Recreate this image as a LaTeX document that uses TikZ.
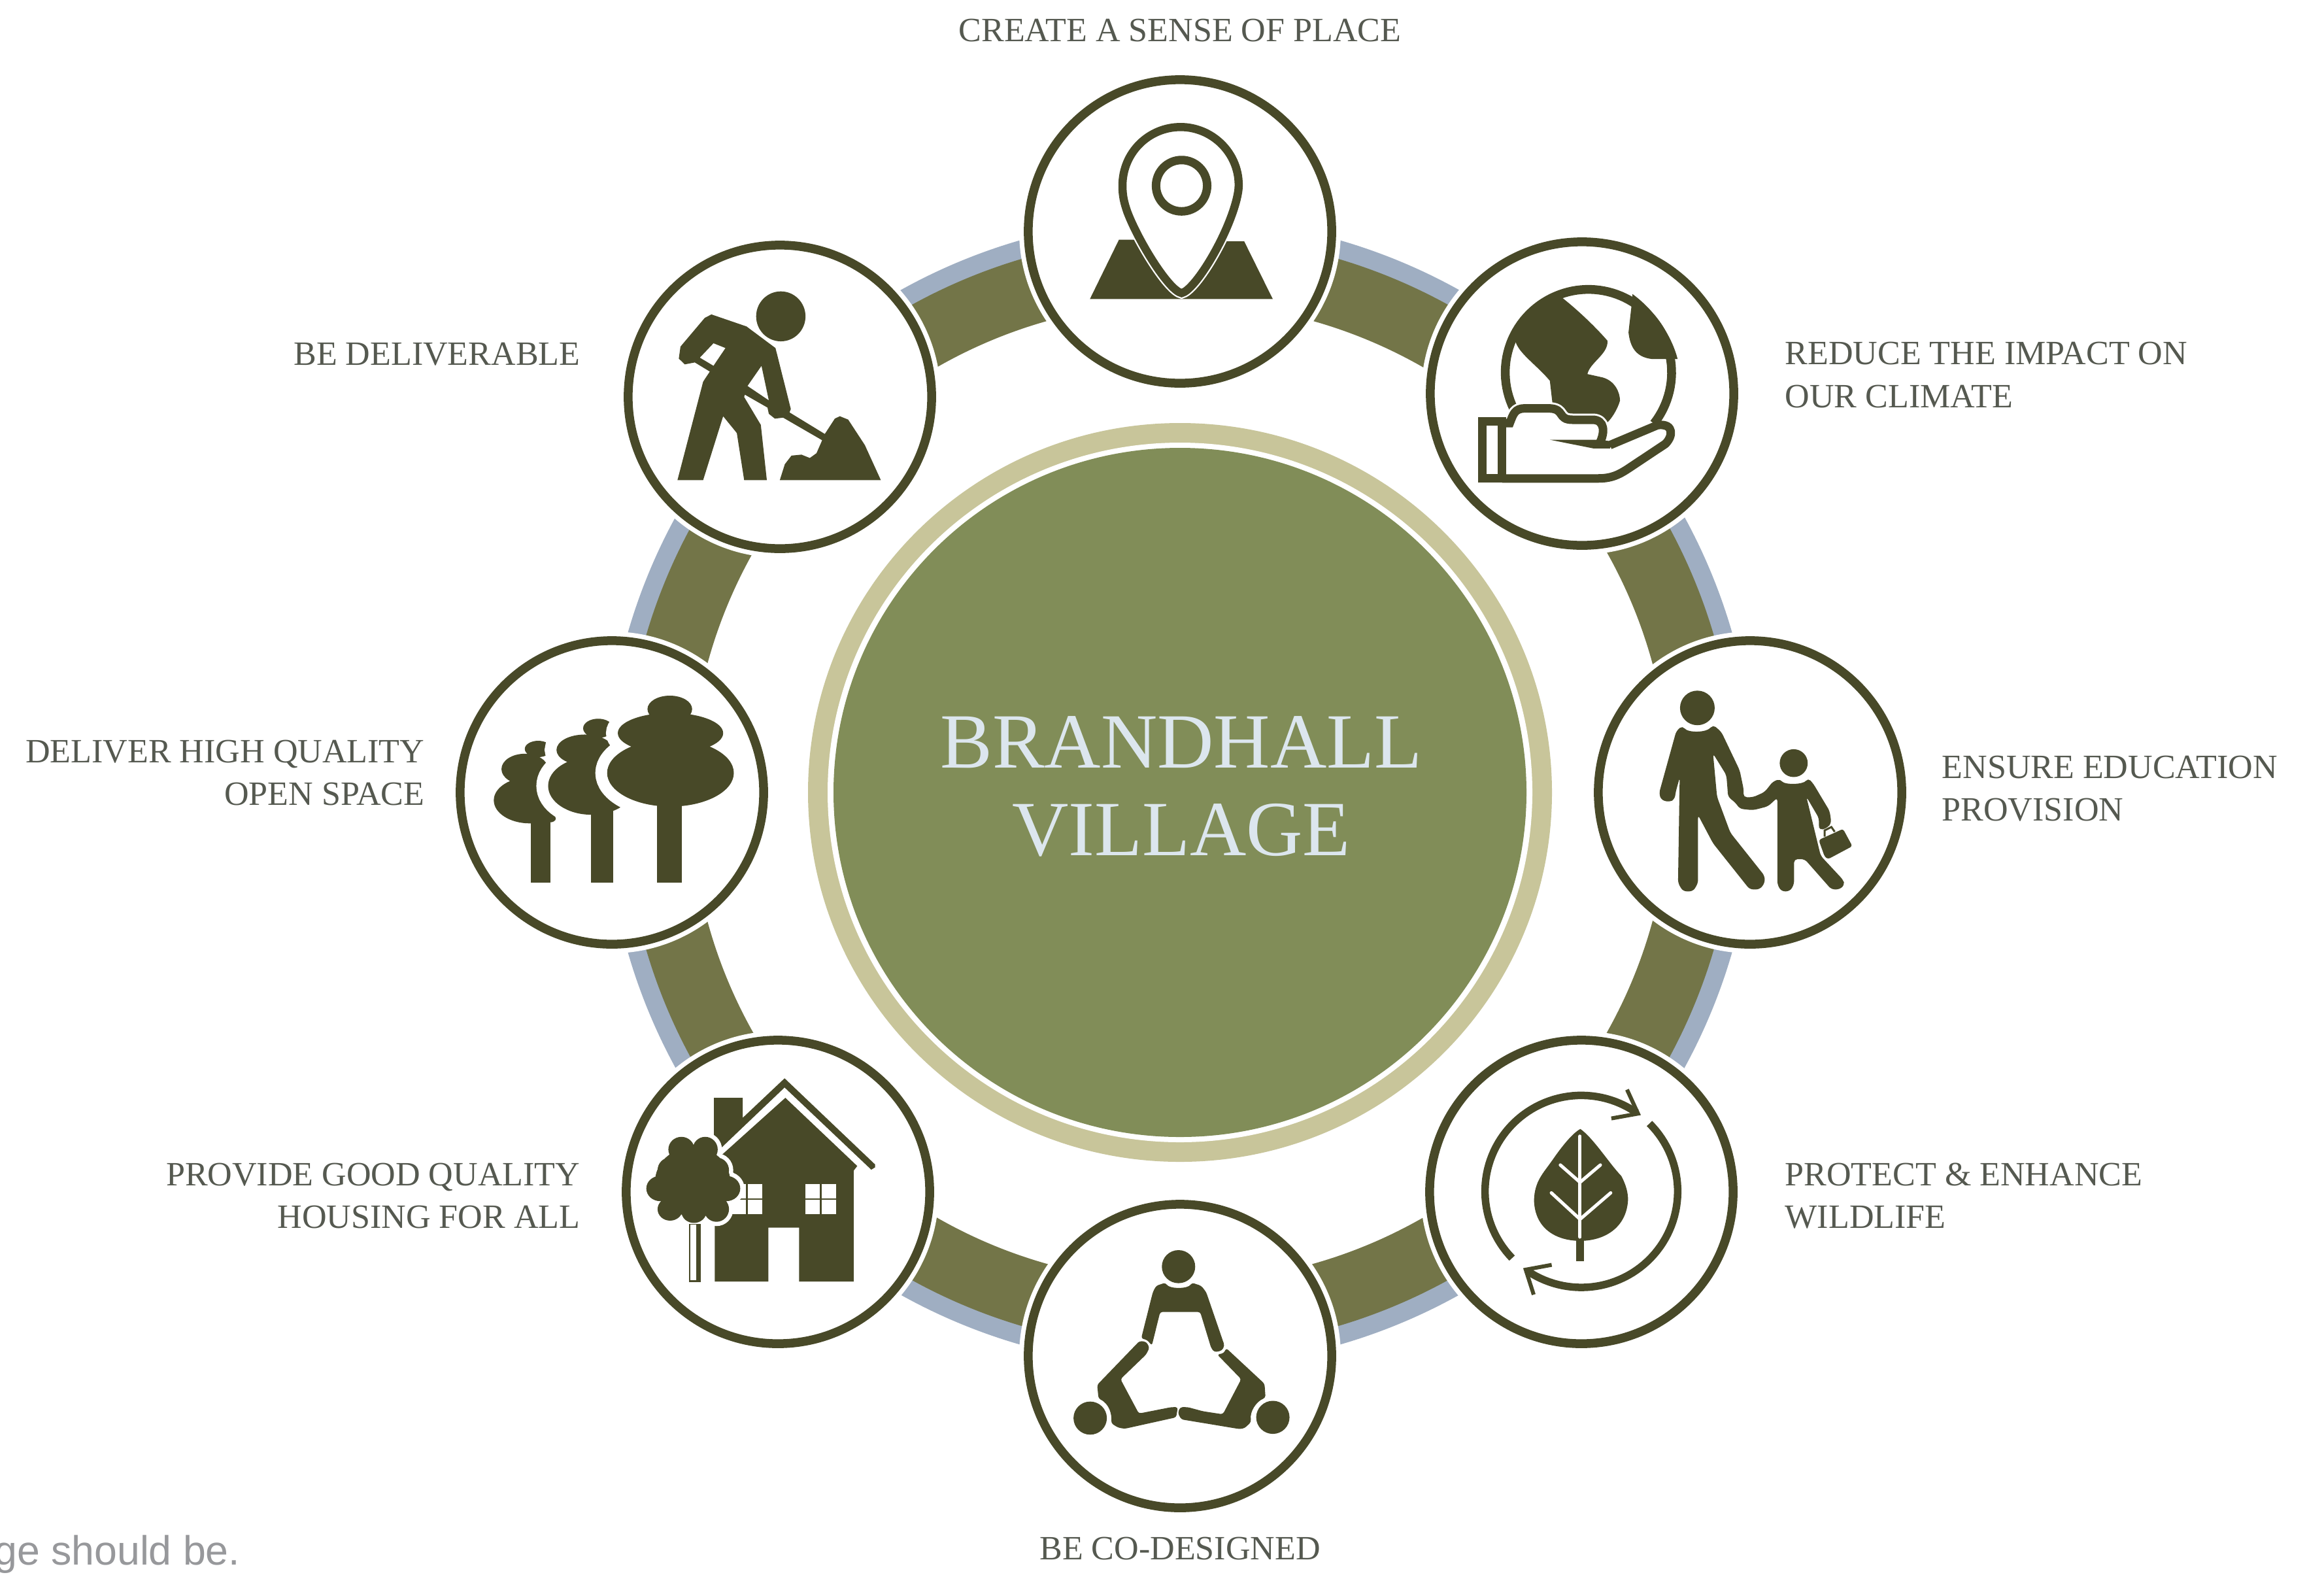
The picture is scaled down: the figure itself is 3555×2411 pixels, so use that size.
\documentclass[tikz,border=0pt]{standalone}
\usepackage{fontspec}
\setmainfont{Liberation Serif}
\newfontfamily\notefont{Liberation Sans}
\definecolor{icon}{HTML}{484928}
\definecolor{bandolive}{HTML}{737548}
\definecolor{bandblue}{HTML}{9FAEC2}
\definecolor{tanring}{HTML}{C8C59A}
\definecolor{coregreen}{HTML}{818D58}
\definecolor{coretext}{HTML}{DCE6EE}
\definecolor{labeltext}{HTML}{555950}
\definecolor{notetext}{HTML}{97989B}
\tikzset{
  hub/.style={circle,draw=icon,fill=white,line width=0.135cm,minimum size=4.64cm,inner sep=0pt,outer sep=0pt},
  lab/.style={text=labeltext,font=\fontsize{14.8pt}{18.49pt}\selectfont,inner sep=0pt},
  labl/.style={lab,align=left,anchor=base west},
  labr/.style={lab,align=right,anchor=base east},
  labc/.style={lab,align=center,anchor=base},
  core/.style={inner sep=0pt,outer sep=0pt,text=coretext,font=\fontsize{34pt}{38.3pt}\selectfont,align=center},
  zone/.style={shift={(15cm,-0.8cm)},x=0.007653cm,y=-0.005102cm},
  ztwo/.style={shift={(21.5cm,-9.5cm)},x=0.005102cm,y=-0.007334cm},
  zthree/.style={shift={(15cm,-18cm)},x=0.005102cm,y=-0.003897cm},
  zfour/.style={shift={(9cm,-15.5cm)},x=0.003827cm,y=-0.003508cm},
  zfive/.style={shift={(6.8cm,-3.5cm)},x=0.005102cm,y=-0.007334cm},
  ic/.style={fill=icon,draw=none},
  iw/.style={fill=white,draw=none},
}
\newcommand{\pinpath}{(398,224) .. controls (335,224) and (282,300) .. (282,400) .. controls (282,430) and (285,450) .. (292,480) .. controls (315,570) and (375,715) .. (400,722) .. controls (425,715) and (490,560) .. (510,440) .. controls (513,420) and (514,410) .. (514,398) .. controls (514,300) and (460,224) .. (398,224) -- cycle}
\newcommand{\crownbig}{(675,1000) ellipse [x radius=67,y radius=28] (677,1050) ellipse [x radius=158,y radius=42] (677,1133) ellipse [x radius=190,y radius=70]}
\newcommand{\crownmid}{(460,1040) ellipse [x radius=45,y radius=20] (420,1085) ellipse [x radius=85,y radius=32] (440,1160) ellipse [x radius=130,y radius=60]}
\newcommand{\crownsmall}{(280,1083) ellipse [x radius=40,y radius=17] (240,1125) ellipse [x radius=70,y radius=32] (255,1190) ellipse [x radius=108,y radius=48] (315,1228) ellipse [x radius=18,y radius=8]}
\newcommand{\treetop}{(370,590) ellipse [x radius=52,y radius=55] (465,590) ellipse [x radius=50,y radius=55] (325,680) ellipse [x radius=50,y radius=55] (510,680) ellipse [x radius=50,y radius=55] (285,760) ellipse [x radius=55,y radius=55] (550,760) ellipse [x radius=55,y radius=55] (325,850) ellipse [x radius=50,y radius=50] (510,850) ellipse [x radius=50,y radius=55] (420,860) ellipse [x radius=50,y radius=50] (415,730) ellipse [x radius=150,y radius=150]}
\begin{document}
\begin{tikzpicture}[x=0.01cm,y=-0.01cm]
\useasboundingbox (0,0) rectangle (3555,2411);
\fill[white] (0,0) rectangle (3555,2411);
% rings
\coordinate (mid) at (1805,1212);
\draw[bandblue,line width=0.29cm] (mid) circle (864.5);
\draw[bandolive,line width=1.02cm] (mid) circle (800);
\fill[tanring] (mid) ellipse [x radius=569,y radius=565];
\fill[white] (mid) ellipse [x radius=539,y radius=535];
\fill[coregreen] (mid) ellipse [x radius=530,y radius=527];
\node[core] (hubcore) at (1807,1203) {BRANDHALL\\VILLAGE};
% stations
\foreach \nm/\px/\py in {a/1805/354,b/2420/602,c/2677/1212,d/2419/1823,e/1805/2074,f/1190/1823,g/936/1212,h/1193/607}{
  \coordinate (p\nm) at (\px,\py);
  \fill[white] (p\nm) circle (246);
  \node[hub] (\nm) at (p\nm) {};
}
% labels
\node[labc] (la) at (1805,63) {CREATE A SENSE OF PLACE};
\node[labl] (lb) at (2730,623) {REDUCE THE IMPACT ON\\OUR CLIMATE};
\node[labl] (lc) at (2970,1255) {ENSURE EDUCATION\\PROVISION};
\node[labl] (ld) at (2730,1878) {PROTECT \& ENHANCE\\WILDLIFE};
\node[labc] (le) at (1805,2385) {BE CO-DESIGNED};
\node[labr] (lf) at (888,1878) {PROVIDE GOOD QUALITY\\HOUSING FOR ALL};
\node[labr] (lg) at (650,1231) {DELIVER HIGH QUALITY\\OPEN SPACE};
\node[labr] (lh) at (888,558) {BE DELIVERABLE};
\node[anchor=base east,inner sep=0pt,text=notetext,font=\notefont\fontsize{17.8pt}{22pt}\selectfont] (note) at (368,2393) {ge should be.};
% pin
\begin{scope}[zone]
\fill[ic] (217,740) -- (275,562) -- (400,562) -- (485,567) -- (525,567) -- (582,740) -- cycle;
\draw[white,line width=0.17cm,fill=white] \pinpath;
\draw[icon,line width=0.125cm] \pinpath;
\draw[icon,line width=0.13cm] (400,400) ellipse [x radius=51,y radius=77];
% globe
\fill[ic] (1150,725) .. controls (1190,770) and (1230,830) .. (1250,865) .. controls (1252,905) and (1215,930) .. (1210,965) -- (1240,975) .. controls (1265,985) and (1275,1020) .. (1275,1045) .. controls (1270,1070) and (1260,1095) .. (1250,1110) -- (1140,1110) -- (1140,1050) -- (1135,985) .. controls (1110,940) and (1075,905) .. (1067,870) -- (1060,860) .. controls (1070,810) and (1100,760) .. (1150,725) -- cycle;
\fill[ic] (1298,760) -- (1292,840) .. controls (1295,880) and (1305,915) .. (1340,920) -- (1390,920) .. controls (1380,860) and (1350,780) .. (1300,725) -- cycle;
\draw[icon,line width=0.135cm] plot[domain=154:398,samples=80] ({1212+166*cos(\x)},{960+249*sin(\x)});
% hand
\fill[iw] (1040,1112) -- (1055,1100) -- (1062,1075) -- (1085,1062) -- (1135,1062) -- (1175,1100) -- (1225,1100) -- (1245,1165) -- (1350,1110) -- (1385,1130) -- (1365,1175) -- (1295,1245) -- (1232,1278) -- (1040,1278) -- cycle;
\draw[white,line width=0.19cm,line join=round] (1040,1112) -- (1055,1112) .. controls (1062,1085) and (1065,1068) .. (1085,1068) -- (1135,1068) .. controls (1165,1070) and (1150,1102) .. (1180,1102) -- (1220,1102) .. controls (1245,1102) and (1245,1140) .. (1235,1170);
\draw[icon,line width=0.13cm,line join=miter] (1040,1112) -- (1055,1112) .. controls (1062,1085) and (1065,1068) .. (1085,1068) -- (1135,1068) .. controls (1165,1070) and (1150,1102) .. (1180,1102) -- (1220,1102) .. controls (1245,1102) and (1245,1140) .. (1235,1170);
\draw[icon,line width=0.13cm,line join=round] (1040,1278) -- (1232,1278) .. controls (1260,1278) and (1275,1265) .. (1295,1245) -- (1365,1175) .. controls (1380,1155) and (1385,1112) .. (1350,1118) -- (1255,1178);
\fill[ic] (1135,1162) -- (1225,1162) -- (1250,1165) -- (1260,1170) -- (1255,1188) -- (1222,1188) -- cycle;
\draw[icon,line width=0.13cm,fill=white] (1000,1107) rectangle (1040,1278);
\end{scope}
% worker and trees
\begin{scope}[zfive]
\fill[ic] (1008,182) ellipse [x radius=74,y radius=52];
\fill[ic,even odd rule] (800,178) -- (905,203) -- (992,248) -- (1038,375) -- (1034,382) -- (1140,427) -- (1170,395) -- (1185,390) -- (1210,397) -- (1260,450) -- (1308,523) -- (1005,523) -- (1020,490) -- (1040,472) -- (1070,470) -- (1095,477) -- (1115,467) -- (1132,440) -- (1015,393) -- (990,395) -- (972,385) -- (968,372) -- (900,345) -- (898,350) -- (948,408) -- (966,523) -- (898,523) -- (876,425) -- (835,390) -- (775,523) -- (698,523) -- (775,318) -- (795,297) -- (750,278) -- (720,282) -- (702,270) -- (707,245) -- (780,185) -- cycle
 (765,268) -- (806,238) -- (842,248) -- (806,285) -- cycle
 (908,327) -- (950,285) -- (972,357) -- cycle;
% trees
\fill[ic] (259,1220) rectangle (317,1362);
\fill[ic] \crownsmall;
\draw[white,line width=0.36cm,fill=white] \crownmid;
\fill[ic] (438,1200) rectangle (505,1362);
\fill[ic] \crownmid;
\draw[white,line width=0.36cm,fill=white] \crownbig;
\fill[ic] (636,1180) rectangle (711,1362);
\fill[ic] \crownbig;
\end{scope}
% people and leaf
\begin{scope}[ztwo]
\fill[ic] (873,180) ellipse [x radius=52,y radius=36];
\fill[ic] (1162,295) ellipse [x radius=42,y radius=29];
\fill[ic,rounded corners=1.5pt] (828,217) .. controls (845,232) and (900,232) .. (920,215) -- (945,230) -- (1000,310) -- (1012,350) -- (1011,366) -- (1040,366) -- (1075,355) -- (1100,333) -- (1122,328) .. controls (1135,340) and (1190,340) .. (1205,326) -- (1220,337) -- (1270,395) -- (1275,420) -- (1262,430) -- (1240,435) -- (1237,425) -- (1238,410) -- (1200,365) -- (1243,488) -- (1310,538) -- (1315,548) -- (1300,558) -- (1275,558) -- (1195,495) -- (1163,495) -- (1163,548) -- (1150,562) -- (1125,562) -- (1113,548) -- (1113,367) -- (1085,385) -- (1040,393) -- (1000,390) -- (988,378) -- (965,365) -- (963,345) -- (960,320) -- (920,275) -- (932,365) -- (972,440) -- (1075,530) -- (1075,545) -- (1060,558) -- (1030,558) -- (920,462) -- (875,403) -- (875,545) -- (860,562) -- (830,562) -- (815,545) -- (820,325) -- (808,355) -- (805,370) -- (790,376) -- (765,372) -- (758,358) -- (805,240) -- (810,228) -- cycle;
\fill[ic,rounded corners=1pt] (1237,455) -- (1310,432) -- (1338,468) -- (1265,495) -- (1255,490) -- cycle;
\draw[icon,line width=0.03cm] (1255,448) -- (1255,435) -- (1275,428) -- (1285,438);
% cycle arrows
\draw[icon,line width=0.115cm] plot[domain=136:305,samples=60] ({525+289*cos(\x)},{1187+200*sin(\x)});
\draw[icon,line width=0.115cm] plot[domain=-45:124,samples=60] ({525+289*cos(\x)},{1187+200*sin(\x)});
\draw[icon,line width=0.06cm,miter limit=6] (662,975) -- (695,1025) -- (615,1035);
\draw[icon,line width=0.06cm,miter limit=6] (436,1340) -- (358,1350) -- (382,1402);
% leaf
\fill[ic] (522,1057) .. controls (560,1075) and (610,1130) .. (645,1155) .. controls (660,1175) and (665,1190) .. (665,1205) .. controls (660,1265) and (590,1290) .. (522,1290) .. controls (450,1290) and (385,1265) .. (383,1205) .. controls (385,1165) and (410,1150) .. (440,1120) .. controls (470,1090) and (500,1065) .. (522,1057) -- cycle;
\fill[ic] (510,1285) rectangle (533,1332);
\draw[white,line width=0.05cm,line cap=round] (521,1072) -- (521,1282);
\draw[white,line width=0.05cm,line cap=round] (462,1132) -- (521,1168) -- (582,1132);
\draw[white,line width=0.05cm,line cap=round] (435,1190) -- (521,1245) -- (613,1190);
\end{scope}
% meeting
\begin{scope}[zthree]
\fill[ic] (592,350) ellipse [x radius=50,y radius=65];
\fill[ic] (327,945) ellipse [x radius=50,y radius=65];
\fill[ic] (875,942) ellipse [x radius=50,y radius=65];
\fill[ic,rounded corners=1pt] (553,413) .. controls (565,438) and (620,438) .. (632,413) -- (660,425) -- (675,450) -- (730,660) -- (722,680) -- (700,686) -- (690,670) -- (657,528) -- (537,528) -- (512,660) -- (498,638) -- (480,632) -- (515,450) -- (525,425) -- cycle;
\fill[ic,rounded corners=1pt] (475,642) -- (495,645) -- (505,668) -- (495,695) -- (418,792) -- (473,927) -- (570,902) -- (590,902) -- (585,942) -- (430,987) -- (410,982) -- (390,965) .. controls (392,930) and (385,890) .. (352,868) -- (348,815) -- (355,805) -- cycle;
\fill[ic,rounded corners=1pt] (735,670) -- (850,810) -- (853,865) .. controls (825,880) and (805,920) .. (810,960) -- (790,985) -- (775,988) -- (600,950) -- (590,925) -- (597,902) -- (620,902) -- (665,918) -- (725,930) -- (780,792) -- (708,695) -- (728,690) -- cycle;
\end{scope}
% house
\begin{scope}[zfour]
\fill[ic] (500,365) -- (615,365) -- (615,452) -- (782,280) -- (1143,655) -- (1143,668) -- (1128,678) -- (782,320) -- (530,582) -- (520,560) -- (500,535) -- cycle;
\fill[ic] (785,365) -- (1072,662) -- (1058,682) -- (1058,1165) -- (840,1165) -- (840,930) -- (717,930) -- (717,1165) -- (503,1165) -- (503,900) -- (503,640) -- (530,615) -- cycle;
\foreach \wx/\wy in {865/741,930/741,865/810,930/810,635/741,570/741,635/810,570/810}{
  \fill[iw] (\wx,\wy) rectangle +(58,62);
}
\draw[white,line width=0.13cm,fill=white] \treetop;
\fill[ic] \treetop;
\fill[ic] (400,915) rectangle (447,1168);
\fill[iw] (407,918) rectangle (428,1160);
\end{scope}
\end{tikzpicture}
\end{document}
